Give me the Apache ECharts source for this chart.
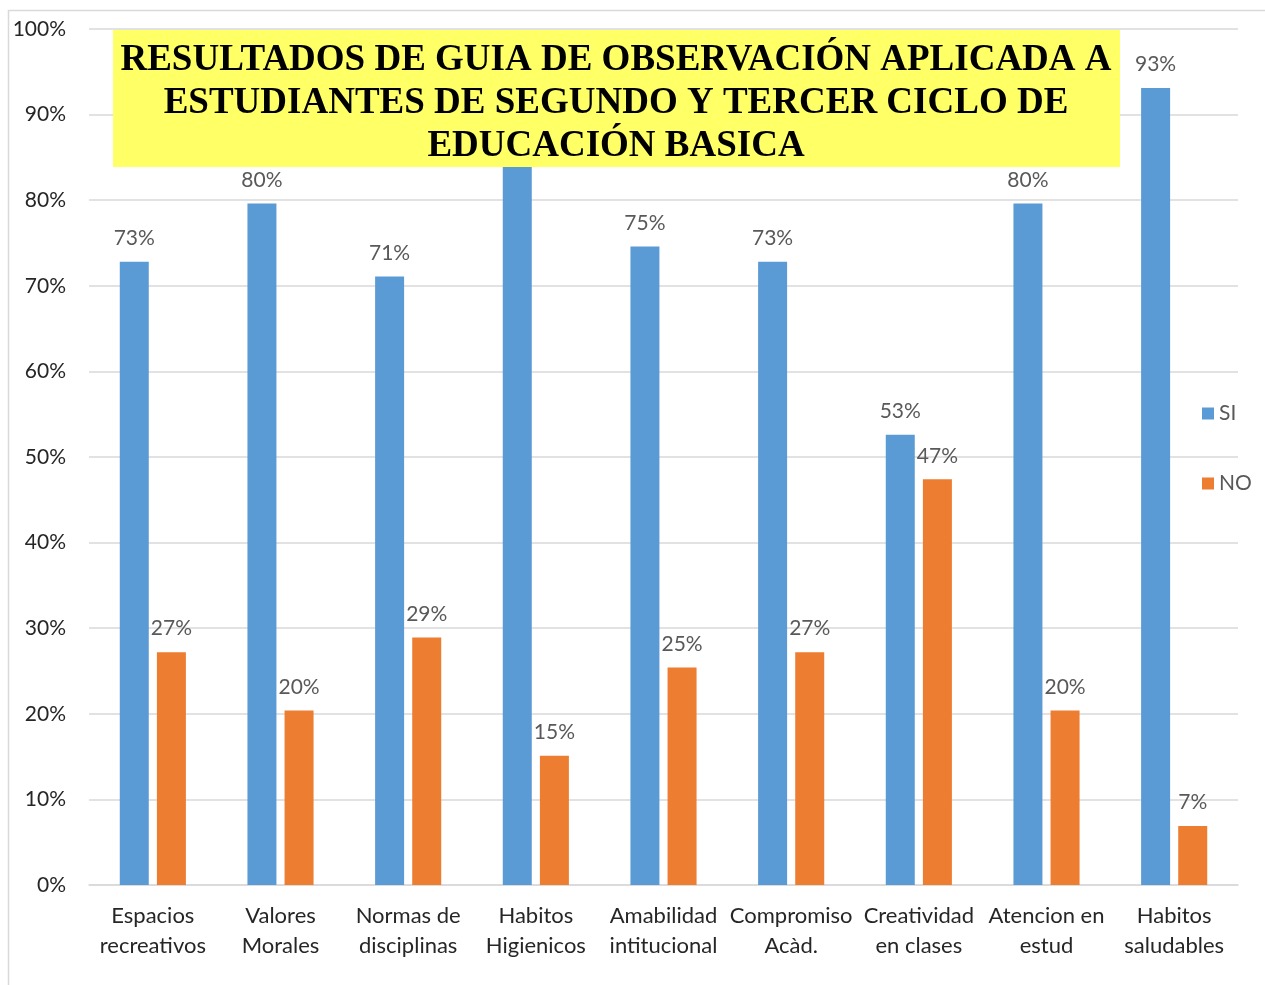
<!DOCTYPE html>
<html>
<head>
<meta charset="utf-8">
<title>Resultados guia de observacion</title>
<script src="https://cdn.jsdelivr.net/npm/echarts@6/dist/echarts.min.js"></script>
<style>
	html,body{margin:0;padding:0;background:#fff;}
	#chart{width:1265px;height:985px;}
</style>
</head>
<body>
<div id="chart"></div>
<script>
// categorias del eje x
var categorias = ['Espacios\nrecreativos','Valores\nMorales','Normas de\ndisciplinas','Habitos\nHigienicos','Amabilidad\nintitucional','Compromiso\nAcàd.','Creatividad\nen clases','Atencion en\nestud','Habitos\nsaludables'];
// porcentaje SI
var datosSi = [0.728, 0.796, 0.711, 0.849, 0.746, 0.728, 0.526, 0.796, 0.931];
// porcentaje NO
var datosNo = [0.272, 0.204, 0.289, 0.151, 0.254, 0.272, 0.474, 0.204, 0.069];
var titulo = ['RESULTADOS DE GUIA DE OBSERVACIÓN APLICADA A','ESTUDIANTES DE SEGUNDO Y TERCER CICLO DE','EDUCACIÓN BASICA'];

var fuente = 'Lato, "Noto Sans", sans-serif';

function pct(p){
	return Math.round(p.value * 100) + '%';
}

var myChart = echarts.init(document.getElementById('chart'));

var option = {
	backgroundColor:'#fff',
	animation:false,
	grid:{left:89, right:27, top:29, bottom:100},
	legend:{
		orient:'vertical',
		left:1197,
		top:398,
		itemWidth:12,
		itemHeight:12,
		itemGap:49,
		icon:'rect',
		textStyle:{fontFamily:fuente, fontSize:21, color:'#595959'},
		data:['SI','NO']
	},
	xAxis:{
		type:'category',
		data:categorias,
		axisLine:{lineStyle:{color:'#D9D9D9', width:1.5}},
		axisTick:{show:false},
		axisLabel:{fontFamily:fuente, fontSize:22, color:'#262626', lineHeight:30, margin:16, interval:0}
	},
	yAxis:{
		type:'value',
		min:0,
		max:1,
		interval:0.1,
		axisLine:{show:false},
		axisTick:{show:false},
		splitLine:{lineStyle:{color:'#D9D9D9', width:1.5}},
		axisLabel:{fontFamily:fuente, fontSize:21, color:'#262626', margin:23,
			formatter:function(v){ return Math.round(v*100) + '%'; }}
	},
	series:[
		{
			name:'SI',
			type:'bar',
			data:datosSi,
			barWidth:29,
			barGap:'28%',
			itemStyle:{color:'#5B9BD5'},
			label:{show:true, position:'top', distance:13, fontFamily:fuente, fontSize:21, color:'#595959', formatter:pct}
		},
		{
			name:'NO',
			type:'bar',
			data:datosNo,
			barWidth:29,
			itemStyle:{color:'#ED7D31'},
			label:{show:true, position:'top', distance:13, fontFamily:fuente, fontSize:21, color:'#595959', formatter:pct}
		}
	],
	graphic:[
		{
			type:'rect',
			z:-1,
			silent:true,
			shape:{x:8.5, y:10.5, width:1300, height:1000},
			style:{fill:null, stroke:'#D9D9D9', lineWidth:1.5}
		},
		{
			type:'rect',
			z:100,
			shape:{x:113, y:30, width:1007, height:137},
			style:{fill:'#FFFF66'}
		},
		{
			type:'text',
			z:101,
			x:616,
			y:103,
			style:{
				text:titulo.join('\n'),
				fontFamily:'"Liberation Serif", "Times New Roman", serif',
				fontWeight:'bold',
				fontSize:37,
				lineHeight:43,
				fill:'#000',
				align:'center',
				verticalAlign:'middle'
			}
		}
	]
};

myChart.setOption(option);
</script>
</body>
</html>
